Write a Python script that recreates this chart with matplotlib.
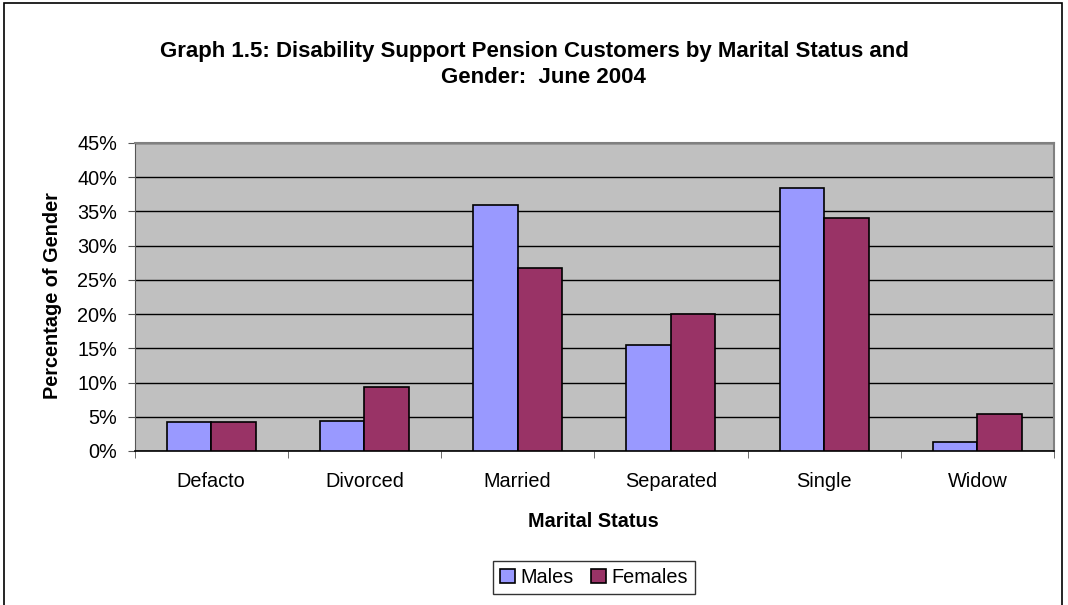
import matplotlib
matplotlib.use("Agg")
import matplotlib.pyplot as plt
import numpy as np
from matplotlib.patches import Rectangle
from matplotlib.ticker import FuncFormatter, MultipleLocator

categories = ["Defacto", "Divorced", "Married", "Separated", "Single", "Widow"]
males = [4.2, 4.4, 36.0, 15.5, 38.4, 1.3]
females = [4.2, 9.4, 26.7, 20.0, 34.0, 5.4]
series_names = ["Males", "Females"]

plt.rcParams['font.family'] = ['Liberation Sans', 'DejaVu Sans']

W, H = 1068, 605
fig = plt.figure(figsize=(W / 100, H / 100), dpi=100)
fig.patch.set_facecolor("white")

# outer chart border
fig.add_artist(Rectangle((4 / W, -0.02), (1062 - 4) / W, 1 - 3 / H + 0.02,
                         transform=fig.transFigure, fill=False,
                         edgecolor="black", linewidth=1.2))

left, right, top, bottom = 134.5, 1054, 143, 451
ax = fig.add_axes([left / W, 1 - bottom / H, (right - left) / W, (bottom - top) / H])
ax.set_facecolor("#C0C0C0")

x = np.arange(len(categories))
bw = 0.29
ax.bar(x - bw / 2, males, width=bw, color="#9999FF", edgecolor="black",
       linewidth=1.2, label=series_names[0], zorder=3)
ax.bar(x + bw / 2, females, width=bw, color="#993366", edgecolor="black",
       linewidth=1.2, label=series_names[1], zorder=3)

ax.set_xlim(-0.5, len(categories) - 0.5)
ax.set_ylim(0, 45)
ax.yaxis.set_major_locator(MultipleLocator(5))
ax.yaxis.set_major_formatter(FuncFormatter(lambda v, p: f"{int(round(v))}%"))
ax.grid(axis="y", color="black", linewidth=1.0, zorder=1)
ax.set_axisbelow(True)

FS = 14.3
ax.set_xticks(x)
ax.set_xticklabels(categories, fontsize=FS)
ax.tick_params(axis="x", which="major", length=0, pad=15)
ax.set_xticks(np.arange(len(categories) + 1) - 0.5, minor=True)
ax.tick_params(axis="x", which="minor", length=5, color="#555555", direction="out")
ax.tick_params(axis="y", length=5, color="#555555", labelsize=FS, pad=7.5)

for s in ["top", "right"]:
    ax.spines[s].set_color("#808080")
    ax.spines[s].set_linewidth(1.5)
ax.spines["left"].set_color("#555555")
ax.spines["bottom"].set_color("black")
ax.spines["bottom"].set_linewidth(1.2)

fig.text(534 / W, 1 - 57 / H, "Graph 1.5: Disability Support Pension Customers by Marital Status and",
         ha="center", va="baseline", fontsize=16, fontweight="bold")
fig.text(543 / W, 1 - 83 / H, "Gender:  June 2004",
         ha="center", va="baseline", fontsize=16, fontweight="bold")
fig.text(53 / W, 1 - 296 / H, "Percentage of Gender", rotation=90,
         ha="center", va="center", fontsize=FS, fontweight="bold")
fig.text(593 / W, 1 - 527 / H, "Marital Status",
         ha="center", va="baseline", fontsize=FS, fontweight="bold")

leg = fig.legend(loc="center", bbox_to_anchor=(594 / W, 1 - 577.5 / H), ncol=2,
                 fontsize=FS, frameon=True, fancybox=False, edgecolor="black",
                 handlelength=0.75, handleheight=0.75, handletextpad=0.25,
                 columnspacing=0.9, borderpad=0.35, borderaxespad=0)
leg.get_frame().set_linewidth(1.0)

fig.savefig("out.png", dpi=100, facecolor="white")
